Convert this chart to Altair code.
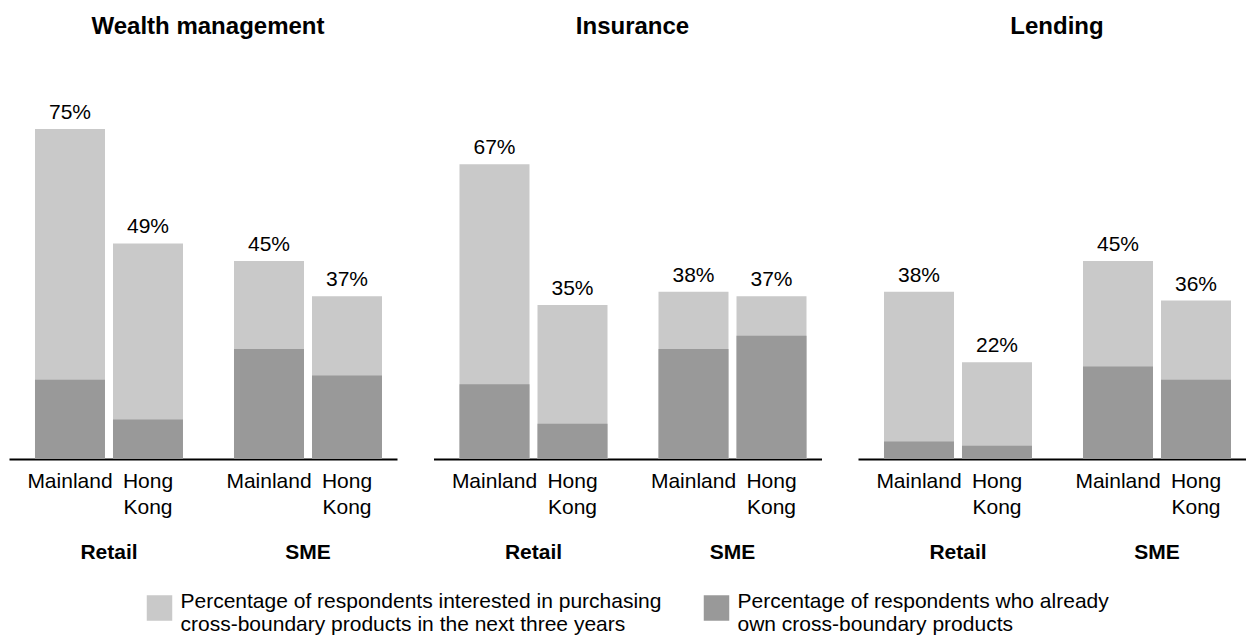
import altair as alt
import pandas as pd

# ---- data ----
panels = ["Wealth management", "Insurance", "Lending"]
segments = ["Retail", "SME"]
regions = ["Mainland", "Hong Kong"]
# order of values: Retail-Mainland, Retail-Hong Kong, SME-Mainland, SME-Hong Kong
wealth_interested = [75, 49, 45, 37]
wealth_own = [18, 9, 25, 19]
insurance_interested = [67, 35, 38, 37]
insurance_own = [17, 8, 25, 28]
lending_interested = [38, 22, 45, 36]
lending_own = [4, 3, 21, 18]
series_labels = [
    "Percentage of respondents interested in purchasing|cross-boundary products in the next three years",
    "Percentage of respondents who already|own cross-boundary products",
]

FONT = "Liberation Sans"
W, H = 388, 374
LIGHT, DARK = "#c9c9c9", "#999999"


def make_df(interested, own):
    rows = []
    i = 0
    for seg in segments:
        for reg in regions:
            rows.append(dict(segment=seg, region=reg, series=series_labels[0],
                             value=interested[i], order=0))
            rows.append(dict(segment=seg, region=reg, series=series_labels[1],
                             value=own[i], order=1))
            i += 1
    return pd.DataFrame(rows)


def panel(title, interested, own):
    df = make_df(interested, own)
    yscale = alt.Scale(domain=[0, 85])
    base = alt.Chart(df).encode(
        x=alt.X("segment:N", sort=segments, title=None,
                scale=alt.Scale(paddingInner=0.2563, paddingOuter=0.103,
                                align=0.634),
                axis=alt.Axis(domainColor="black", domainWidth=2, ticks=False,
                              labelAngle=0, labelFont=FONT, labelFontSize=21,
                              labelFontWeight="bold", labelColor="black",
                              labelPadding=99, labelBaseline="alphabetic",
                              grid=False)),
        xOffset=alt.XOffset("region:N", sort=regions,
                            scale=alt.Scale(paddingInner=0.1026, paddingOuter=0)),
    )
    bars = base.mark_bar().encode(
        y=alt.Y("value:Q", stack=None, scale=yscale, axis=None),
        color=alt.Color(
            "series:N",
            scale=alt.Scale(domain=series_labels, range=[LIGHT, DARK]),
            legend=alt.Legend(
                title=None, orient="none", legendX=137.5, legendY=510,
                direction="horizontal", symbolType="square", symbolSize=650,
                symbolStrokeWidth=0, labelFont=FONT, labelFontSize=21,
                labelColor="black", labelExpr="split(datum.label, '|')",
                labelBaseline="alphabetic",
                labelLimit=800, labelOffset=8, columnPadding=42, padding=0),
        ),
        order=alt.Order("order:Q"),
    )
    pct = base.mark_text(font=FONT, fontSize=21, color="black",
                         baseline="alphabetic", dy=-10).encode(
        y=alt.Y("value:Q", stack=None, scale=yscale, axis=None),
        text="pct:N",
    ).transform_filter(alt.datum.order == 0).transform_calculate(
        pct="datum.value + '%'")
    reg = base.mark_text(font=FONT, fontSize=21, color="black",
                         baseline="alphabetic", lineBreak=" ",
                         lineHeight=26).encode(
        y=alt.value(H + 28.5),
        text="region:N",
    ).transform_filter(alt.datum.order == 0)
    return alt.layer(bars, pct, reg).properties(
        width=W, height=H,
        title=alt.TitleParams(text=title, font=FONT, fontSize=24,
                              fontWeight="bold", color="black",
                              anchor="middle", frame="group", offset=46, dx=5),
    )


chart = alt.hconcat(
    panel(panels[0], wealth_interested, wealth_own),
    panel(panels[1], insurance_interested, insurance_own),
    panel(panels[2], lending_interested, lending_own),
    spacing=36.5, bounds="flush",
).properties(
    padding={"left": 1, "top": 7, "right": 0, "bottom": 0},
).configure(font=FONT).configure_view(stroke="transparent", strokeWidth=0)

chart.save("out.html", embed_options={"renderer": "svg", "actions": False})
